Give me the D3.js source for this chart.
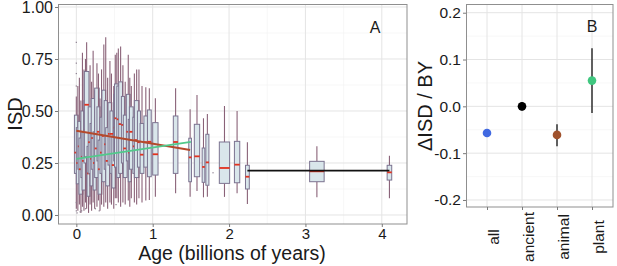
<!DOCTYPE html>
<html><head><meta charset="utf-8">
<script src="https://cdn.jsdelivr.net/npm/d3@7"></script>
<style>body{margin:0;background:#fff}svg{display:block}text{font-family:"Liberation Sans",Arial,sans-serif;fill:#1a1a1a}</style>
</head><body>
<svg id="c" width="617" height="266"></svg>
<script>
// ---------- Panel A data: boxplots of ISD by age (billions of years) ----------
const boxX   = [0.00,0.02,0.04,0.06,0.08,0.10,0.12,0.135,0.16,0.18,0.20,0.22,0.24,0.27,0.29,0.31,0.33,0.36,0.385,0.41,0.44,0.46,0.49,0.51,0.53,0.55,0.58,0.61,0.64,0.68,0.70,0.72,0.76,0.79,0.82,0.86,0.91,0.956,1.035,1.30,1.49,1.58,1.665,1.716,1.94,2.105,2.24,3.15,4.10];
const boxW   = [0.05,0.04,0.04,0.05,0.04,0.05,0.04,0.06,0.04,0.05,0.04,0.05,0.04,0.06,0.04,0.05,0.04,0.05,0.04,0.05,0.05,0.04,0.05,0.04,0.06,0.04,0.05,0.04,0.05,0.05,0.04,0.05,0.04,0.06,0.04,0.05,0.05,0.05,0.07,0.06,0.035,0.07,0.035,0.04,0.135,0.07,0.05,0.19,0.06];
const boxLo  = [0.03,0.02,0.05,0.01,0.04,0.02,0.06,0.03,0.01,0.05,0.02,0.06,0.03,0.04,0.07,0.02,0.05,0.04,0.06,0.03,0.06,0.05,0.03,0.08,0.08,0.06,0.04,0.06,0.05,0.07,0.04,0.08,0.06,0.05,0.08,0.06,0.07,0.072,0.088,0.104,0.088,0.115,0.085,0.088,0.087,0.104,0.053,0.085,0.08];
const boxQ1  = [0.20,0.15,0.22,0.10,0.18,0.12,0.25,0.28,0.09,0.20,0.14,0.22,0.12,0.18,0.26,0.10,0.20,0.16,0.22,0.14,0.24,0.20,0.13,0.26,0.23,0.18,0.20,0.25,0.18,0.26,0.16,0.22,0.20,0.18,0.23,0.20,0.23,0.184,0.192,0.20,0.16,0.184,0.157,0.143,0.152,0.155,0.125,0.16,0.168];
const boxMed = [0.30,0.25,0.33,0.22,0.28,0.26,0.41,0.53,0.20,0.35,0.27,0.37,0.25,0.32,0.40,0.22,0.30,0.38,0.34,0.26,0.39,0.39,0.24,0.42,0.465,0.46,0.437,0.433,0.32,0.40,0.30,0.40,0.33,0.36,0.35,0.29,0.35,0.352,0.292,0.351,0.277,0.282,0.231,0.253,0.226,0.242,0.184,0.21,0.205];
const boxQ3  = [0.48,0.42,0.45,0.37,0.50,0.40,0.55,0.69,0.33,0.52,0.44,0.56,0.40,0.61,0.52,0.36,0.47,0.60,0.55,0.42,0.54,0.50,0.38,0.58,0.63,0.62,0.64,0.57,0.48,0.58,0.46,0.52,0.47,0.55,0.50,0.44,0.476,0.505,0.444,0.476,0.369,0.436,0.322,0.388,0.351,0.354,0.239,0.258,0.239];
const boxHi  = [0.57,0.62,0.66,0.55,0.78,0.70,0.75,0.83,0.52,0.72,0.64,0.79,0.60,0.73,0.68,0.56,0.70,0.82,0.855,0.66,0.74,0.68,0.62,0.77,0.78,0.80,0.81,0.72,0.64,0.77,0.66,0.62,0.68,0.70,0.70,0.62,0.614,0.609,0.561,0.609,0.508,0.577,0.465,0.486,0.524,0.50,0.35,0.33,0.285];
// outlier points
const outX = [0.00,0.00,0.00,0.00,0.00,0.00,0.01,0.05,0.07,0.12,0.25,0.30,0.52,1.79];
const outY = [0.83,0.73,0.68,0.62,0.06,0.02,0.01,0.015,0.02,0.03,0.03,0.02,0.05,0.203];
// fitted trend lines
const lineNames = ["animal","plant","ancient"];
const lineX0 = [0.0, 0.0, 2.24];
const lineY0 = [0.405, 0.27, 0.213];
const lineX1 = [1.49, 1.50, 4.10];
const lineY1 = [0.3125, 0.352, 0.213];
const lineColors = ["#b4492b","#52c98b","#111111"];
const xTicksA = [0,1,2,3,4];
const yTicksA = [0,0.25,0.5,0.75,1];

// ---------- Panel B data ----------
const groups  = ["all","ancient","animal","plant"];
const slope   = [-0.057, 0.0, -0.061, 0.055];
const slopeLo = [-0.059, -0.009, -0.085, -0.014];
const slopeHi = [-0.055, 0.009, -0.038, 0.124];
const groupColors = ["#4169e1","#000000","#a0522d","#3fc77f"];
const yTicksB = [-0.2,-0.1,0.0,0.1,0.2];

const svg = d3.select("#c");

// ===== Panel A =====
const ax = d3.scaleLinear().domain([-0.24, 4.33]).range([58, 407]);
const ay = d3.scaleLinear().domain([-0.0433, 1.0144]).range([224, 4]);
const gA = svg.append("g");
gA.append("rect").attr("x",58).attr("y",4).attr("width",349).attr("height",220).attr("fill","#fff");
[0.125,0.375,0.625,0.875].forEach(v=>gA.append("line").attr("x1",58).attr("x2",407).attr("y1",ay(v)).attr("y2",ay(v)).attr("stroke","#f2f2f2").attr("stroke-width",0.6));
[0.5,1.5,2.5,3.5].forEach(v=>gA.append("line").attr("y1",4).attr("y2",224).attr("x1",ax(v)).attr("x2",ax(v)).attr("stroke","#f2f2f2").attr("stroke-width",0.6));
yTicksA.forEach(v=>gA.append("line").attr("x1",58).attr("x2",407).attr("y1",ay(v)).attr("y2",ay(v)).attr("stroke","#e4e4e4").attr("stroke-width",1));
xTicksA.forEach(v=>gA.append("line").attr("y1",4).attr("y2",224).attr("x1",ax(v)).attr("x2",ax(v)).attr("stroke","#e4e4e4").attr("stroke-width",1));

const boxes = boxX.map((x,i)=>({x,w:boxW[i],lo:boxLo[i],q1:boxQ1[i],med:boxMed[i],q3:boxQ3[i],hi:boxHi[i]}));
const bg = gA.append("g");
boxes.forEach(b=>{
  const cx = ax(b.x), hw = (ax(b.x+b.w)-ax(b.x))/2;
  bg.append("line").attr("x1",cx).attr("x2",cx).attr("y1",ay(b.lo)).attr("y2",ay(b.q1)).attr("stroke","#8a6278").attr("stroke-width",1.1);
  bg.append("line").attr("x1",cx).attr("x2",cx).attr("y1",ay(b.q3)).attr("y2",ay(b.hi)).attr("stroke","#8a6278").attr("stroke-width",1.1);
  bg.append("rect").attr("x",cx-hw).attr("width",2*hw).attr("y",ay(b.q3)).attr("height",ay(b.q1)-ay(b.q3))
    .attr("fill","#d9e6eb").attr("stroke","#7b7390").attr("stroke-width",1);
  bg.append("line").attr("x1",cx-hw).attr("x2",cx+hw).attr("y1",ay(b.med)).attr("y2",ay(b.med)).attr("stroke","#e2321f").attr("stroke-width",1.8);
});
outX.forEach((x,i)=>gA.append("rect").attr("x",ax(x)-0.6).attr("y",ay(outY[i])-0.6).attr("width",1.2).attr("height",1.2).attr("fill","#8a7d8e"));
lineNames.forEach((n,i)=>gA.append("line").attr("x1",ax(lineX0[i])).attr("y1",ay(lineY0[i])).attr("x2",ax(lineX1[i])).attr("y2",ay(lineY1[i]))
  .attr("stroke",lineColors[i]).attr("stroke-width",1.8));
gA.append("rect").attr("x",58.5).attr("y",4.5).attr("width",348.5).attr("height",219.5).attr("fill","none").attr("stroke","#8f8f8f").attr("stroke-width",1);
gA.append("text").attr("x",375).attr("y",33).attr("text-anchor","middle").attr("font-size",16).text("A");
const axisA_x = gA.append("g").attr("transform","translate(0,224)").call(d3.axisBottom(ax).tickValues(xTicksA).tickSize(3).tickPadding(1).tickFormat(d3.format("d")));
const axisA_y = gA.append("g").attr("transform","translate(58,0)").call(d3.axisLeft(ay).tickValues(yTicksA).tickSize(3).tickPadding(2).tickFormat(d3.format(".2f")));
[axisA_x,axisA_y].forEach(a=>{a.select(".domain").remove();a.selectAll(".tick line").attr("stroke","#7a7a7a");a.selectAll("text").attr("fill","#1a1a1a").attr("font-family","Liberation Sans, Arial, sans-serif");});
axisA_x.selectAll("text").attr("font-size",15);
axisA_y.selectAll("text").attr("font-size",16);
axisA_y.selectAll("text").filter(d=>d===1).attr("dy","0.36em");
gA.append("text").attr("x",232).attr("y",260).attr("text-anchor","middle").attr("font-size",19.5).text("Age (billions of years)");
gA.append("text").attr("transform","translate(22,114) rotate(-90)").attr("text-anchor","middle").attr("font-size",20).text("ISD");

// ===== Panel B =====
const bx = d3.scalePoint().domain(groups).range([466, 613]).padding(0.6);
const by = d3.scaleLinear().domain([-0.215, 0.2186]).range([207, 4]);
const gB = svg.append("g");
[-0.15,-0.05,0.05,0.15].forEach(v=>gB.append("line").attr("x1",466).attr("x2",613).attr("y1",by(v)).attr("y2",by(v)).attr("stroke","#f2f2f2").attr("stroke-width",0.6));
yTicksB.forEach(v=>gB.append("line").attr("x1",466).attr("x2",613).attr("y1",by(v)).attr("y2",by(v)).attr("stroke","#e4e4e4").attr("stroke-width",1));
groups.forEach(g=>gB.append("line").attr("y1",4).attr("y2",207).attr("x1",bx(g)).attr("x2",bx(g)).attr("stroke","#e4e4e4").attr("stroke-width",1));
groups.forEach((g,i)=>{
  gB.append("line").attr("x1",bx(g)).attr("x2",bx(g)).attr("y1",by(slopeLo[i])).attr("y2",by(slopeHi[i])).attr("stroke","#111").attr("stroke-width",1.3);
  gB.append("circle").attr("cx",bx(g)).attr("cy",by(slope[i])).attr("r",4.3).attr("fill",groupColors[i]);
});
gB.append("rect").attr("x",466.5).attr("y",4.5).attr("width",146.5).attr("height",202.5).attr("fill","none").attr("stroke","#8f8f8f").attr("stroke-width",1);
gB.append("text").attr("x",592).attr("y",31.5).attr("text-anchor","middle").attr("font-size",16).text("B");
const axisB_y = gB.append("g").attr("transform","translate(466,0)").call(d3.axisLeft(by).tickValues(yTicksB).tickSize(3).tickPadding(2).tickFormat(d3.format(".1f")));
axisB_y.select(".domain").remove();
axisB_y.selectAll(".tick line").attr("stroke","#7a7a7a");
axisB_y.selectAll("text").attr("font-size",15.5).attr("fill","#1a1a1a").attr("font-family","Liberation Sans, Arial, sans-serif").text(d=>d3.format(".1f")(d).replace("−","-"));
const axisB_x = gB.append("g").attr("transform","translate(0,207)").call(d3.axisBottom(bx).tickSize(3).tickFormat(""));
axisB_x.select(".domain").remove();
axisB_x.selectAll(".tick line").attr("stroke","#7a7a7a");
groups.forEach(g=>gB.append("text").attr("transform",`translate(${bx(g)+11.5},237) rotate(-90)`).attr("text-anchor","middle").attr("font-size",15.5).text(g));
gB.append("text").attr("transform","translate(432,106) rotate(-90)").attr("text-anchor","middle").attr("font-size",20).text("ΔISD / BY");
</script>
</body></html>
